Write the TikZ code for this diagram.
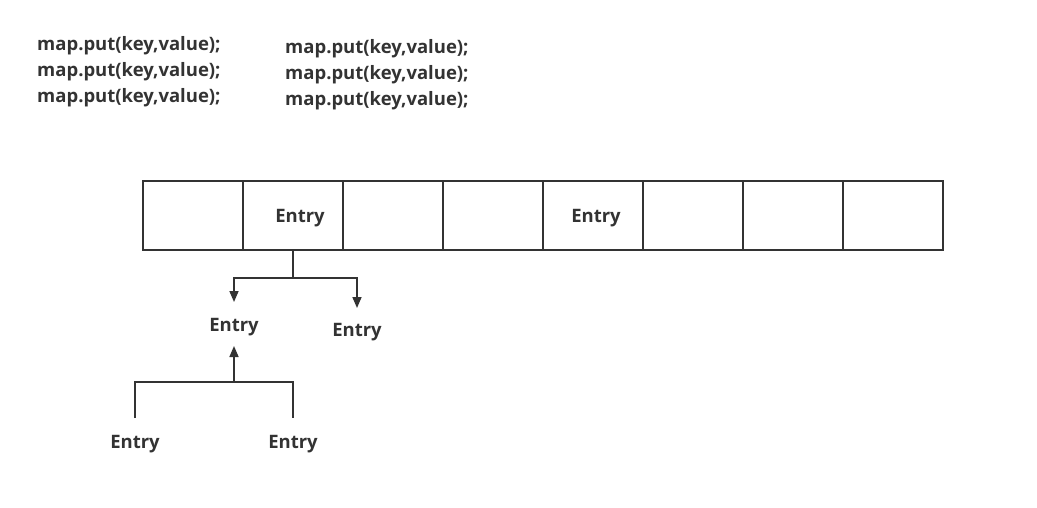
\documentclass[tikz,border=0pt]{standalone}
\usepackage{fontspec}
\setmainfont{Open Sans}
\usetikzlibrary{arrows.meta}
\definecolor{ink}{HTML}{333333}
\tikzset{
  lbl/.style={text=ink,font=\bfseries\fontsize{18.5}{22}\selectfont,inner sep=0pt},
  code/.style={text=ink,font=\bfseries\fontsize{18.5}{22}\selectfont,inner sep=0pt,anchor=west},
  cell/.style={draw=ink,line width=1.6pt,minimum width=100pt,minimum height=69pt,inner sep=0pt,outer sep=0pt,anchor=north west},
  conn/.style={draw=ink,line width=1.6pt},
  arr/.style={conn,-{Triangle[length=11pt,width=9pt]}}
}
\begin{document}
\begin{tikzpicture}[x=1pt,y=-1pt]
\useasboundingbox (0,0) rectangle (1037,507);
% code lines
\node[code] (c1) at (37,46) {map.put(key,value);};
\node[code] (c2) at (37,72) {map.put(key,value);};
\node[code] (c3) at (37,98) {map.put(key,value);};
\node[code] (c4) at (285,49) {map.put(key,value);};
\node[code] (c5) at (285,75) {map.put(key,value);};
\node[code] (c6) at (285,101) {map.put(key,value);};
% array cells
\foreach \i in {0,...,7}{
  \node[cell] (b\i) at (143+100*\i,181) {};
}
\node[lbl] (e1) at (300,218) {Entry};
\node[lbl] (e2) at (596,218) {Entry};
% child entries
\node[lbl] (l1) at (234,327) {Entry};
\node[lbl] (r1) at (357,332) {Entry};
\node[lbl] (l2) at (135,444) {Entry};
\node[lbl] (r2) at (293,444) {Entry};
% connectors
\coordinate (j1) at (293,278);
\coordinate (tl) at (234,302);
\coordinate (tr) at (357,308);
\draw[conn] (b1.south) -- (j1);
\draw[arr] (j1) -| (tl);
\draw[arr] (j1) -| (tr);
\coordinate (j2) at (234,382);
\coordinate (t2) at (234,346);
\draw[arr] (j2) -- (t2);
\coordinate (s1) at (135,418);
\coordinate (s2) at (293,418);
\draw[conn] (s1) |- (j2) -| (s2);
\end{tikzpicture}
\end{document}
